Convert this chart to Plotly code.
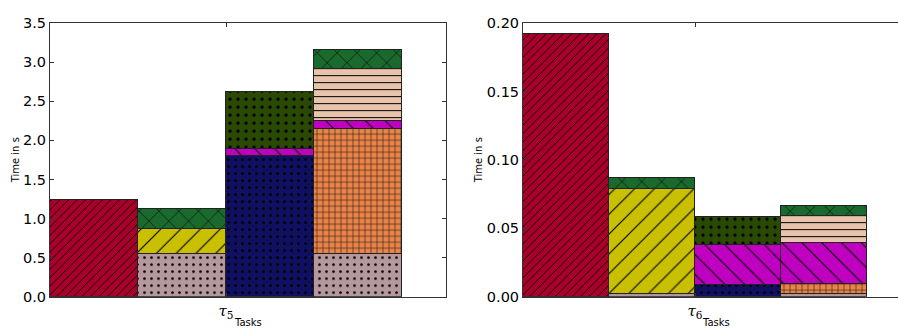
import plotly.graph_objects as go

# ---------------- data ----------------
bar_pos = [0, 1, 2, 3]

# left panel (tau_5) segment heights, bottom-up stacking order
L_red = [1.23, None, None, None]
L_pinkgray = [None, 0.55, None, 0.55]
L_navy = [None, None, 1.80, None]
L_yellow = [None, 0.32, None, None]
L_orange = [None, None, None, 1.59]
L_magenta = [None, None, 0.09, 0.10]
L_darkgreen = [None, None, 0.73, None]
L_peach = [None, None, None, 0.67]
L_green = [None, 0.25, None, 0.25]

# right panel (tau_6)
R_red = [0.192, None, None, None]
R_pinkgray = [None, 0.0017, None, 0.0017]
R_navy = [None, None, 0.0083, None]
R_yellow = [None, 0.0773, None, None]
R_orange = [None, None, None, 0.0078]
R_magenta = [None, None, 0.0291, 0.0298]
R_darkgreen = [None, None, 0.0209, None]
R_peach = [None, None, None, 0.0195]
R_green = [None, 0.0077, None, 0.0076]

left_ticks = [0.0, 0.5, 1.0, 1.5, 2.0, 2.5, 3.0, 3.5]
right_ticks = [0.00, 0.05, 0.10, 0.15, 0.20]
left_task = "<i>τ</i><sub>5</sub>"
right_task = "<i>τ</i><sub>6</sub>"

# ---------------- styles ----------------
styles = {
    "red": dict(color="#a8002a", shape="/", size=6, solidity=0.15),
    "pinkgray": dict(color="#b4989e", shape=".", size=7, solidity=0.12),
    "navy": dict(color="#101060", shape=".", size=7, solidity=0.12),
    "yellow": dict(color="#c8c000", shape="/", size=14, solidity=0.08),
    "orange": dict(color="#e8844a", shape="+", size=6, solidity=0.15),
    "magenta": dict(color="#c000c0", shape="\\", size=14, solidity=0.08),
    "darkgreen": dict(color="#2a4a04", shape=".", size=8, solidity=0.14),
    "peach": dict(color="#e8c4ac", shape="-", size=7, solidity=0.15),
    "green": dict(color="#1a6a2e", shape="x", size=14, solidity=0.08),
}

order = ["red", "pinkgray", "navy", "yellow", "orange", "magenta",
         "darkgreen", "peach", "green"]
left_data = dict(red=L_red, pinkgray=L_pinkgray, navy=L_navy, yellow=L_yellow,
                 orange=L_orange, magenta=L_magenta, darkgreen=L_darkgreen,
                 peach=L_peach, green=L_green)
right_data = dict(red=R_red, pinkgray=R_pinkgray, navy=R_navy, yellow=R_yellow,
                  orange=R_orange, magenta=R_magenta, darkgreen=R_darkgreen,
                  peach=R_peach, green=R_green)

fig = go.Figure()
for panel, data in (("x", left_data), ("x2", right_data)):
    yax = "y" if panel == "x" else "y2"
    for name in order:
        st = styles[name]
        fig.add_trace(go.Bar(
            x=bar_pos, y=data[name], width=1.0, name=name,
            xaxis=panel, yaxis=yax, showlegend=False,
            marker=dict(
                color=st["color"],
                line=dict(color="#222222", width=1),
                pattern=dict(shape=st["shape"], size=st["size"],
                             solidity=st["solidity"], fgcolor="#000000",
                             bgcolor=st["color"], fillmode="replace"),
            ),
            hoverinfo="skip",
        ))

W, H = 898, 333


def yp(px):
    # pixel row (from top) -> paper fraction
    return 1 - px / H


y_dom = [yp(303.3), yp(15.9)]
common_x = dict(showgrid=False, zeroline=False, showline=True, linecolor="#333333",
                linewidth=1, mirror="ticks", ticks="inside", ticklen=4,
                tickcolor="#333333", tickvals=[1.5],
                tickfont=dict(family="DejaVu Serif", size=15, color="black"))
common_y = dict(showgrid=False, zeroline=False, showline=True, linecolor="#333333",
                linewidth=1, ticks="inside", ticklen=4, tickcolor="#333333",
                tickfont=dict(family="DejaVu Sans", size=14.5, color="black"))

fig.update_layout(
    width=W, height=H, margin=dict(l=0, r=0, t=0, b=0),
    paper_bgcolor="white", plot_bgcolor="white", barmode="stack", bargap=0,
    xaxis=dict(common_x, domain=[50 / W, 446 / W], range=[-0.5, 4.0],
               ticktext=[left_task]),
    yaxis=dict(common_y, domain=y_dom, range=[0, 3.5], tickvals=left_ticks,
               ticktext=[f"{v:.1f}" for v in left_ticks], mirror="ticks"),
    xaxis2=dict(common_x, domain=[523 / W, 1.0], range=[-0.5, (898 - 523) / 86 - 0.5],
                ticktext=[right_task], anchor="y2"),
    yaxis2=dict(common_y, domain=y_dom, range=[0, 0.2], tickvals=right_ticks,
                ticktext=[f"{v:.2f}" for v in right_ticks], anchor="x2", mirror=False),
    font=dict(family="DejaVu Sans"),
)

ann_font = dict(family="DejaVu Sans", size=10, color="black")
for txt, px, py, ang in (("Time in s", 15, 160, -90), ("Time in s", 478, 160, -90),
                         ("Tasks", 248, 330, 0), ("Tasks", 716, 330, 0)):
    fig.add_annotation(text=txt, x=px / W, y=yp(py), xref="paper", yref="paper",
                       xanchor="center", yanchor="middle", textangle=ang,
                       showarrow=False, font=ann_font)

fig.write_html("out.html", config={"displayModeBar": False},
               post_script="document.body.style.margin='0';")
